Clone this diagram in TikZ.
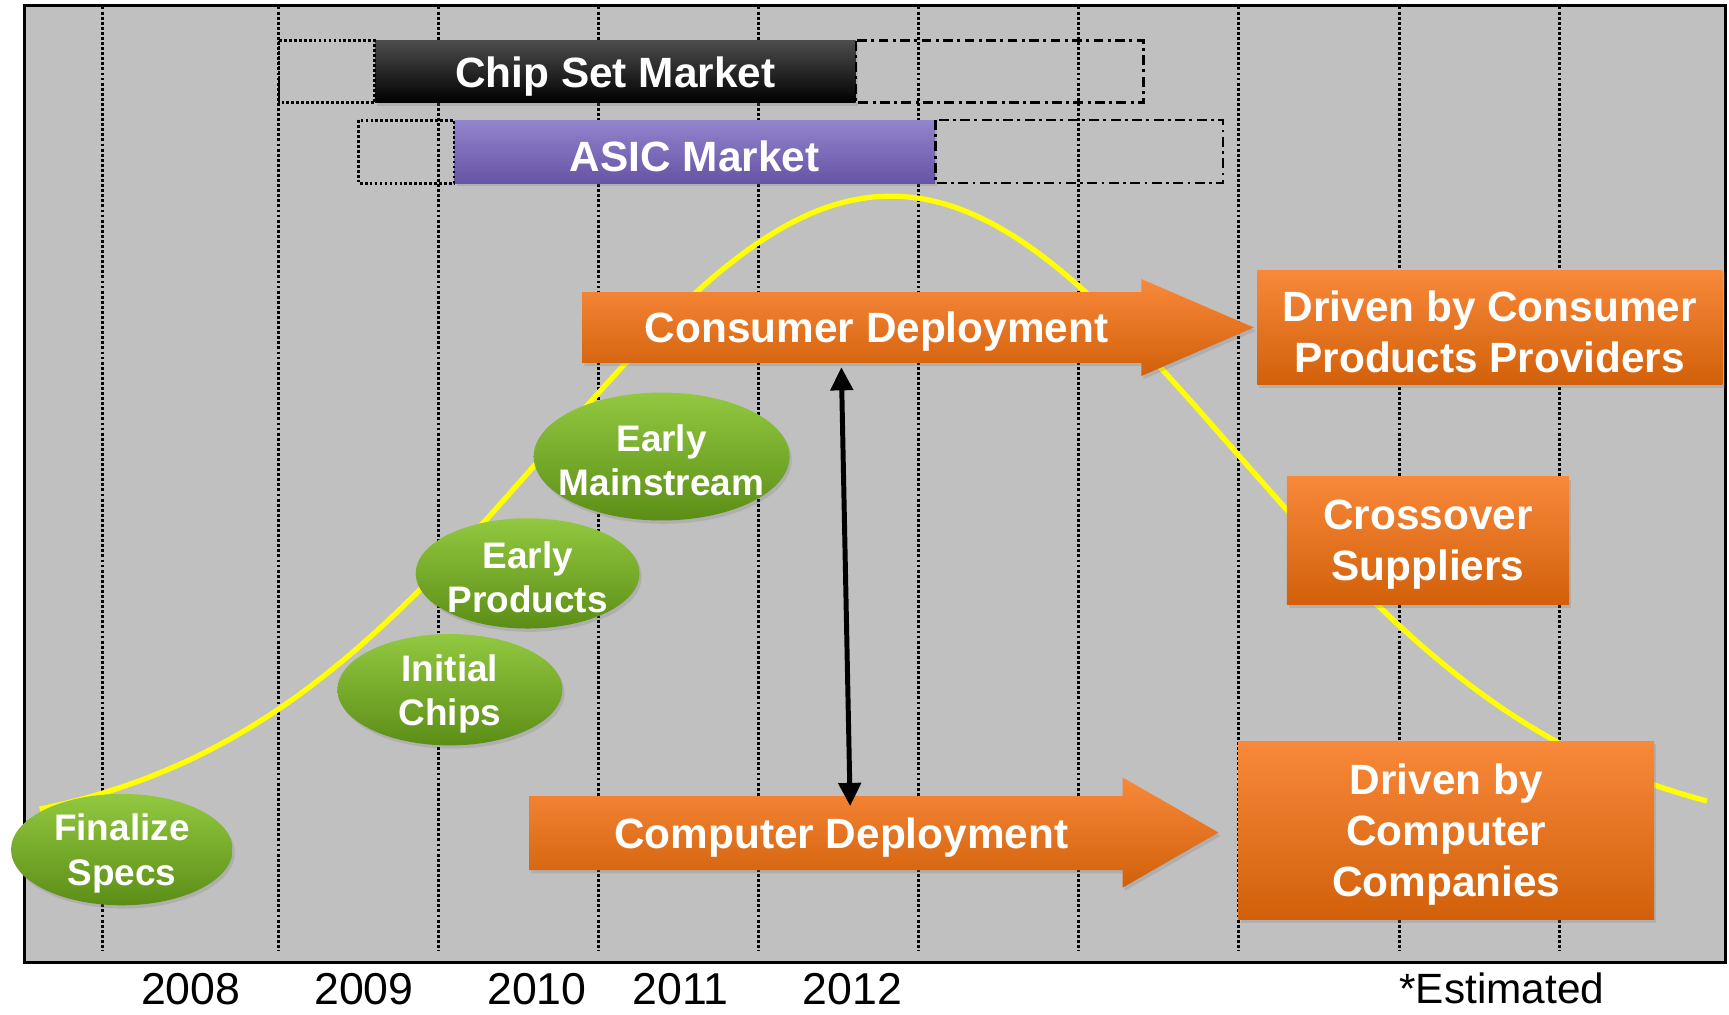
\documentclass[tikz,border=0pt]{standalone}
\usepackage{fontspec}
\setmainfont{Liberation Sans}
\usetikzlibrary{shapes.geometric,arrows.meta,shadows}
\definecolor{bgray}{HTML}{C0C0C0}
\definecolor{orTop}{HTML}{F8893A}
\definecolor{orMid}{HTML}{F1780F}
\definecolor{orBot}{HTML}{D2600A}
\definecolor{grTop}{HTML}{92C840}
\definecolor{grMid}{HTML}{78B026}
\definecolor{grBot}{HTML}{5C8E16}
\definecolor{puTop}{HTML}{9384CE}
\definecolor{puBot}{HTML}{6654A4}
\definecolor{curveY}{HTML}{FFFF00}
\begin{document}
\begin{tikzpicture}[x=1pt,y=-1pt,
  gridline/.style={black, line width=2.6pt, dash pattern=on 2.6pt off 2pt},
  dotbox/.style={black, line width=2.5pt, dash pattern=on 2.5pt off 2pt},
  dashdotbox/.style={black, line width=2.3pt, dash pattern=on 9pt off 4pt on 2.5pt off 4pt},
  bigtxt/.style={text=white, font=\bfseries\fontsize{38.4}{46}\selectfont, align=center, inner sep=0pt, yshift=-4pt},
  etxt/.style={text=white, font=\bfseries\fontsize{33.5}{40}\selectfont, align=center, inner sep=0pt, yshift=-3.5pt},
  yeartxt/.style={text=black, font=\fontsize{40.5}{48}\selectfont, anchor=base, inner sep=0pt},
  barbox/.style={rectangle, inner sep=0pt, minimum width=436pt, minimum height=56pt,
     drop shadow={opacity=0.25, shadow xshift=2pt, shadow yshift=-3pt}},
  gell/.style={ellipse, inner sep=0pt, top color=grTop, middle color=grMid, bottom color=grBot,
     drop shadow={opacity=0.25, shadow xshift=2pt, shadow yshift=-3pt}},
  obox/.style={rectangle, inner sep=0pt, top color=orTop, middle color=orMid, bottom color=orBot,
     drop shadow={opacity=0.25, shadow xshift=2pt, shadow yshift=-3pt}},
  oarrow/.style={top color=orTop, middle color=orMid, bottom color=orBot,
     drop shadow={opacity=0.25, shadow xshift=2pt, shadow yshift=-3pt}},
  dblarrow/.style={black, line width=4.5pt,
     {Triangle[length=21pt,width=20pt]}-{Triangle[length=21pt,width=20pt]}}
]
\useasboundingbox (0,0) rectangle (1568,920);
\fill[white] (0,0) rectangle (1568,920);
% plot area
\fill[bgray] (22,5) rectangle (1565,873);
\foreach \gx in {93,252.6,398,543,688,833,978,1123.4,1268.8,1414}
  \draw[gridline] (\gx,6) -- (\gx,862);

% market bars
\node[barbox, top color=black!70, middle color=black, bottom color=black] (chip) at (558,65) {};
\node[bigtxt] (chiptxt) at (chip) {Chip Set Market};
\draw[dotbox] (253,37) rectangle (chip.south west);
\draw[dashdotbox] (chip.north east) rectangle (1037,93);

\node[barbox, minimum height=57pt, top color=puTop, bottom color=puBot] (asic) at (630,137.5) {};
\node[bigtxt] (asictxt) at (asic) {ASIC Market};
\draw[dotbox] (325,109) rectangle (asic.south west);
\draw[dashdotbox] (asic.north east) rectangle (1109,166);

% adoption curve
\draw[curveY, line width=4.8pt] plot[domain=36:1548, samples=150, smooth]
  (\x,{760-582*exp(-0.5*((\x-808)/310)*((\x-808)/310))});

% frame
\draw[black, line width=3pt] (22,5) rectangle (1565,873);

% milestones
\node[gell, minimum width=201pt, minimum height=101pt] (fs) at (110.5,770.5) {};
\node[etxt] (fstxt) at (fs) {Finalize\\Specs};
\node[gell, minimum width=204pt, minimum height=101pt] (ic) at (408,625.5) {};
\node[etxt] (ictxt) at (ic) {Initial\\Chips};
\node[gell, minimum width=203pt, minimum height=100pt] (ep) at (478.5,520) {};
\node[etxt] (eptxt) at (ep) {Early\\Products};
\node[gell, minimum width=232pt, minimum height=116pt] (em) at (600,414) {};
\node[etxt] (emtxt) at (em) {Early\\Mainstream};

% deployment arrows
\path[oarrow] (528,265) -- (1035,265) -- (1035,253) -- (1137,297) -- (1035,341) -- (1035,329) -- (528,329) -- cycle;
\node[bigtxt] (constxt) at (795,297) {Consumer Deployment};
\path[oarrow] (480,722) -- (1018,722) -- (1018,705) -- (1105,755) -- (1018,805) -- (1018,789) -- (480,789) -- cycle;
\node[bigtxt] (comptxt) at (763,756) {Computer Deployment};

% driver boxes
\node[obox, minimum width=422pt, minimum height=104pt] (dcons) at (1351,297) {};
\node[bigtxt] (dconstxt) at (dcons) {Driven by Consumer\\Products Providers};
\node[obox, minimum width=256pt, minimum height=116pt] (cross) at (1295,490) {};
\node[bigtxt] (crosstxt) at (cross) {Crossover\\Suppliers};
\node[obox, minimum width=377pt, minimum height=162pt] (dcomp) at (1311.5,753) {};
\node[bigtxt] (dcomptxt) at (dcomp) {Driven by\\Computer\\Companies};

% link between deployments
\coordinate (dtop) at (763,333);
\coordinate (dbot) at (771,731);
\draw[dblarrow] (dtop) -- (dbot);

% years
\node[yeartxt] (y08) at (173,911) {2008};
\node[yeartxt] (y09) at (330,911) {2009};
\node[yeartxt] (y10) at (487,911) {2010};
\node[yeartxt] (y11) at (617,911) {2011};
\node[yeartxt] (y12) at (773,911) {2012};
\node[yeartxt, font=\fontsize{38.4}{46}\selectfont] (est) at (1362,910) {*Estimated};
\end{tikzpicture}
\end{document}
